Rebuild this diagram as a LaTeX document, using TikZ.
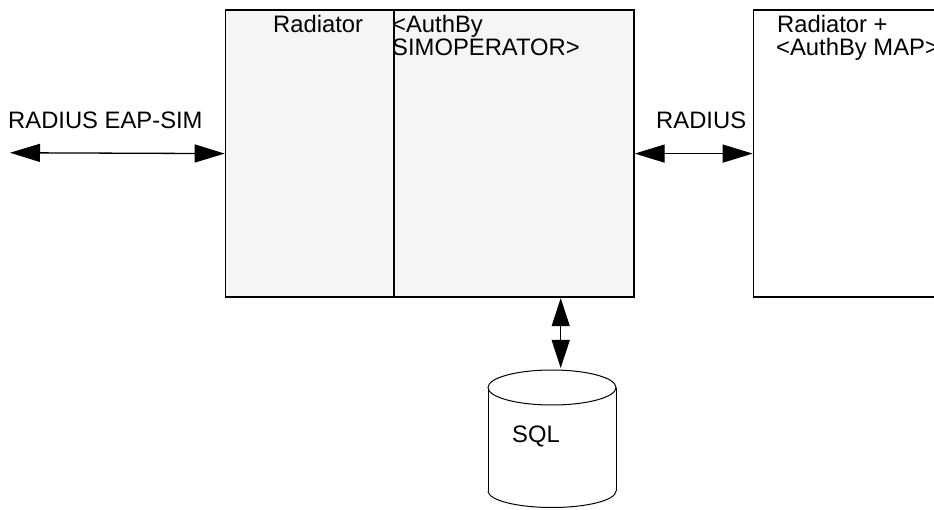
\documentclass[tikz,border=0pt]{standalone}
\usepackage{fontspec}
\setmainfont{Liberation Sans}
\usetikzlibrary{arrows.meta}
\definecolor{boxgray}{HTML}{F5F5F5}
\tikzset{
  boxstyle/.style={draw=black, line width=1.7pt, inner sep=0pt, anchor=north west},
  lbl/.style={inner sep=0pt, anchor=base west, font=\fontsize{23.8}{23.8}\selectfont},
  biarrow/.style={line width=1.3pt, {Triangle[length=30pt,width=18pt]}-{Triangle[length=30pt,width=18pt]}},
  vbiarrow/.style={line width=1.3pt, {Triangle[length=28pt,width=18pt]}-{Triangle[length=28pt,width=18pt]}},
  cyl/.style={draw=black, line width=1pt, fill=white}
}
\begin{document}
\begin{tikzpicture}[x=1pt,y=-1pt]
\useasboundingbox (0,0) rectangle (934,510);
\clip (0,0) rectangle (934,510);
% main box, two parts
\node[boxstyle, fill=boxgray, minimum width=168.3pt, minimum height=287.5pt] (radiator) at (224.7,9) {};
\node[boxstyle, fill=boxgray, minimum width=240pt, minimum height=287.5pt] (authby) at (393,9) {};
% right box (cut off at page edge)
\node[boxstyle, fill=white, minimum width=220pt, minimum height=287.5pt] (map) at (752.7,9) {};
% labels
\node[lbl] (t1) at (273,33) {Radiator};
\node[lbl] (t2) at (392,32.7) {<AuthBy};
\node[lbl] (t3) at (392,55.7) {SIMOPERATOR>};
\node[lbl] (t4) at (777,33) {Radiator +};
\node[lbl] (t5) at (776,56) {<AuthBy MAP>};
\node[lbl] (t6) at (8,128.3) {RADIUS EAP-SIM};
\node[lbl] (t7) at (656,128.3) {RADIUS};
% cylinder
\begin{scope}
  \clip (480,491) rectangle (625,512);
  \draw[cyl] (552,491) ellipse [x radius=64, y radius=16.5];
\end{scope}
\fill[white] (488,387.5) rectangle (616,491);
\draw[line width=1pt] (488,387.5) -- (488,491);
\draw[line width=1pt] (616,387.5) -- (616,491);
\draw[cyl] (552,387.5) ellipse [x radius=64, y radius=17.5];
\node[inner sep=0pt, minimum width=128pt, minimum height=140pt] (sql) at (552,440) {};
\node[lbl] (t8) at (512,442.7) {SQL};
% connectors
\coordinate (eapend) at (10,152.75);
\coordinate (sqltop) at (560.7,368);
\draw[biarrow] (eapend) -- (radiator.west);
\draw[biarrow] (authby.east) -- (map.west);
\draw[vbiarrow] (authby.south -| sqltop) -- (sqltop);
\end{tikzpicture}
\end{document}
